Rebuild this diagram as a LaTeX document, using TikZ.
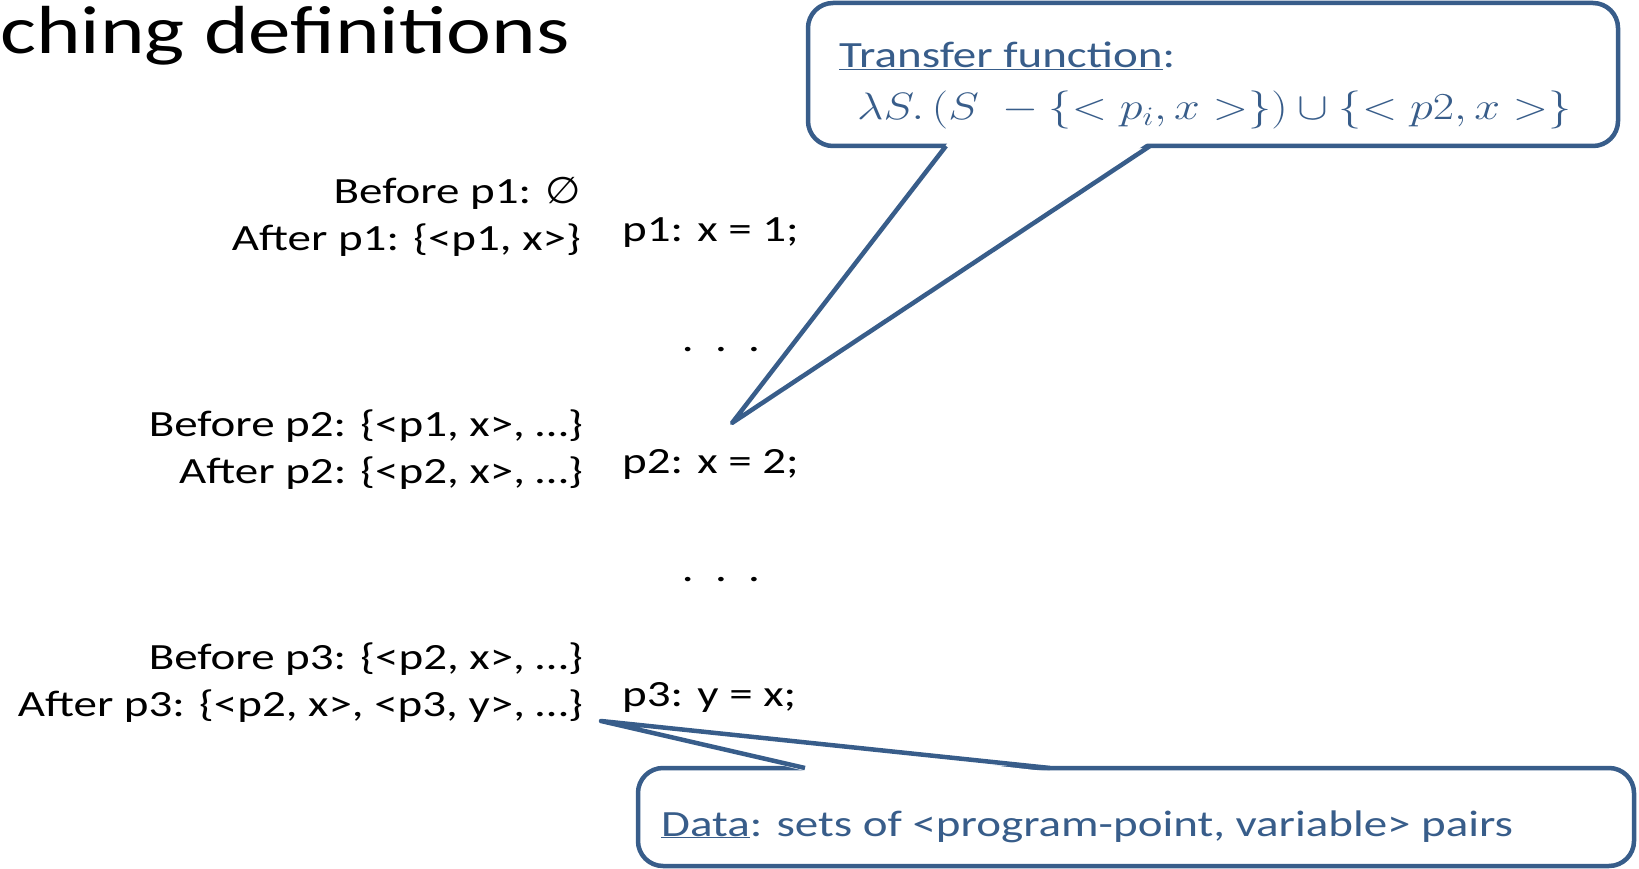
\RequirePackage{fix-cm}
\documentclass[tikz,border=0pt]{standalone}
\usepackage{graphicx}
\usepackage{fontspec}
\setmainfont{Carlito}[FakeStretch=1.27]
\newfontfamily\titlefont{Carlito}[FakeStretch=1.25]
\newfontfamily\symbolfont{DejaVu Sans}[FakeStretch=1.1]
\usepackage{tikz}
\usetikzlibrary{positioning, calc}
\definecolor{calloutblue}{RGB}{56,93,138}

\begin{document}
\begin{tikzpicture}[x=1pt, y=-1pt,
    every node/.style={inner sep=0pt, font=\fontsize{37}{45}\selectfont},
    state/.style={anchor=base east},
    stmt/.style={anchor=base west},
    callout/.style={draw=calloutblue, line width=4.5pt, outer sep=0pt, rounded corners=25pt, fill=white},
    pointer/.style={draw=calloutblue, line width=4.5pt, line join=round},
    note/.style={anchor=base west, text=calloutblue}]
  \useasboundingbox (0,0) rectangle (1639,869);

  \node[anchor=base west, font=\titlefont\fontsize{68}{78}\selectfont] (title) at (0,54) {ching definitions};

  % program and reaching sets
  \node[state] (before1) at (581,204) {Before p1: {\symbolfont ∅}};
  \node[state] (after1) at (581,251) {After p1: \{<p1, x>\}};
  \node[stmt] (p1) at (622,242) {p1: x = 1;};
  \node[anchor=base] (dots1) at (721,351) {.\ \ .\ \ .};

  \node[state] (before2) at (583,436) {Before p2: \{<p1, x>, …\}};
  \node[state] (after2) at (583,483) {After p2: \{<p2, x>, …\}};
  \node[stmt] (p2) at (622,473) {p2: x = 2;};
  \node[anchor=base] (dots2) at (721,581) {.\ \ .\ \ .};

  \node[state] (before3) at (583,669) {Before p3: \{<p2, x>, …\}};
  \node[state] (after3) at (583,716) {After p3: \{<p2, x>, <p3, y>, …\}};
  \node[stmt] (p3) at (622,706) {p3: y = x;};

  % transfer function callout
  \node[callout, anchor=north west, minimum width=810pt, minimum height=143pt] (tfbox) at (808,3) {};
  \node[note] (tfhead) at (839,68) {\underline{Transfer function}:};
  \node[note] (tfrule) at (857,120) {\scalebox{1.25}[1.03]{$\lambda S.\,(S\ -\{<p_i,x>\})\cup\{<p2,x>\}$}};
  \coordinate (tftip) at (732,423);
  \fill[white] ($(tfbox.south west)+(140,-3.5)$) -- (tftip) -- ($(tfbox.south west)+(340,-3.5)$) -- cycle;
  \draw[pointer] ($(tfbox.south west)+(138,0)$) -- (tftip) -- ($(tfbox.south west)+(342,0)$);

  % data callout
  \node[callout, anchor=north west, minimum width=996pt, minimum height=98pt] (databox) at (638,768) {};
  \node[note] (datatext) at (661,836) {\underline{Data}: sets of <program-point, variable> pairs};
  \coordinate (datatip) at (601,721);
  \fill[white] ($(databox.north west)+(169,3.5)$) -- (datatip) -- ($(databox.north west)+(410,3.5)$) -- cycle;
  \draw[pointer] ($(databox.north west)+(167,0)$) -- (datatip) -- ($(databox.north west)+(412,0)$);
\end{tikzpicture}
\end{document}
